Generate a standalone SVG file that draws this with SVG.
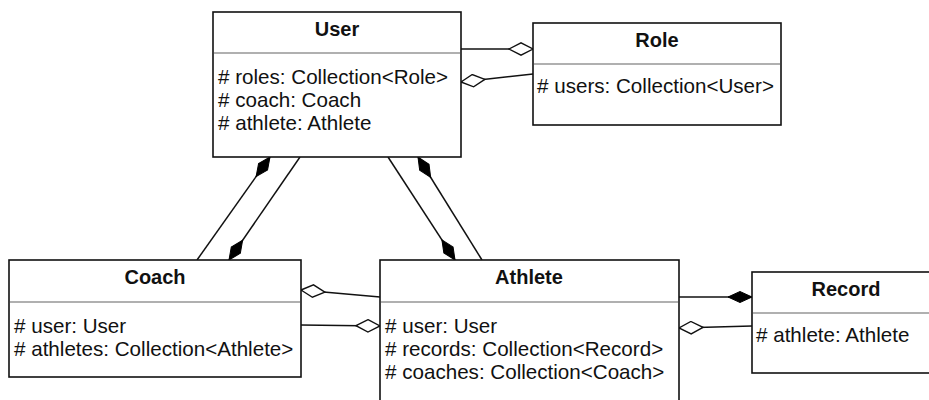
<svg xmlns="http://www.w3.org/2000/svg" width="929" height="400" viewBox="0 0 929 400">
  <style>
    .box { fill: #ffffff; stroke: #111111; stroke-width: 1.6; }
    .sep { stroke: #b0b0b0; stroke-width: 2; }
    .title { font-family: "Liberation Sans", Arial, sans-serif; font-size: 20px; font-weight: bold; fill: #111111; text-anchor: middle; }
    .attr { font-family: "Liberation Sans", Arial, sans-serif; font-size: 20.6px; fill: #111111; }
    .link { fill: none; stroke: #111111; stroke-width: 1.5; }
    .agg { marker-end: url(#open); }
    .agg-s { marker-start: url(#open); }
    .comp { marker-end: url(#filled); }
    .comp-s { marker-start: url(#filled); }
  </style>
  <defs>
    <!-- aggregation: hollow diamond, tip on the line end -->
    <marker id="open" viewBox="0 0 26 14" markerWidth="26" markerHeight="14" refX="25" refY="7" orient="auto-start-reverse" markerUnits="userSpaceOnUse">
      <path d="M1,7 L13,0.8 L25,7 L13,13.2 Z" fill="#ffffff" stroke="#111111" stroke-width="1.4"/>
    </marker>
    <!-- composition: solid diamond -->
    <marker id="filled" viewBox="0 0 26 14" markerWidth="26" markerHeight="14" refX="25" refY="7" orient="auto-start-reverse" markerUnits="userSpaceOnUse">
      <path d="M1,7 L13,1.5 L25,7 L13,12.5 Z" fill="#000000" stroke="#000000" stroke-width="1"/>
    </marker>
  </defs>

  <rect width="929" height="400" fill="#ffffff"/>

  <g id="connectors">
    <!-- User / Role -->
    <line class="link agg" x1="461" y1="49" x2="533" y2="49"/>
    <line class="link agg-s" x1="461" y1="82" x2="533" y2="74"/>
    <!-- User / Coach -->
    <line class="link comp-s" x1="270" y1="157" x2="197" y2="260"/>
    <line class="link comp" x1="300" y1="157" x2="229" y2="260"/>
    <!-- User / Athlete -->
    <line class="link comp" x1="388" y1="157" x2="455" y2="260"/>
    <line class="link comp-s" x1="418" y1="157" x2="482" y2="260"/>
    <!-- Coach / Athlete -->
    <line class="link agg-s" x1="301" y1="290" x2="380" y2="297"/>
    <line class="link agg" x1="301" y1="325" x2="380" y2="326"/>
    <!-- Athlete / Record -->
    <line class="link comp" x1="679" y1="297" x2="752" y2="297"/>
    <line class="link agg-s" x1="679" y1="328" x2="752" y2="326"/>
  </g>

  <g id="user">
    <rect class="box" x="213" y="12" width="248" height="145"/>
    <line class="sep" x1="214" y1="53" x2="460" y2="53"/>
    <text class="title" x="337" y="36">User</text>
    <text class="attr" x="218" y="84"># roles: Collection&lt;Role&gt;</text>
    <text class="attr" x="218" y="107"># coach: Coach</text>
    <text class="attr" x="218" y="130"># athlete: Athlete</text>
  </g>

  <g id="role">
    <rect class="box" x="533" y="23" width="248" height="102"/>
    <line class="sep" x1="534" y1="64" x2="780" y2="64"/>
    <text class="title" x="657" y="47">Role</text>
    <text class="attr" x="537" y="93"># users: Collection&lt;User&gt;</text>
  </g>

  <g id="coach">
    <rect class="box" x="9" y="260" width="292" height="117"/>
    <line class="sep" x1="10" y1="302" x2="300" y2="302"/>
    <text class="title" x="155" y="284">Coach</text>
    <text class="attr" x="14" y="333"># user: User</text>
    <text class="attr" x="14" y="356"># athletes: Collection&lt;Athlete&gt;</text>
  </g>

  <g id="athlete">
    <rect class="box" x="380" y="260" width="299" height="150"/>
    <line class="sep" x1="381" y1="302" x2="678" y2="302"/>
    <text class="title" x="529" y="284">Athlete</text>
    <text class="attr" x="385" y="333"># user: User</text>
    <text class="attr" x="385" y="356"># records: Collection&lt;Record&gt;</text>
    <text class="attr" x="385" y="379"># coaches: Collection&lt;Coach&gt;</text>
  </g>

  <g id="record">
    <rect class="box" x="752" y="272" width="190" height="101"/>
    <line class="sep" x1="753" y1="313" x2="941" y2="313"/>
    <text class="title" x="846" y="296">Record</text>
    <text class="attr" x="756" y="342"># athlete: Athlete</text>
  </g>
</svg>
